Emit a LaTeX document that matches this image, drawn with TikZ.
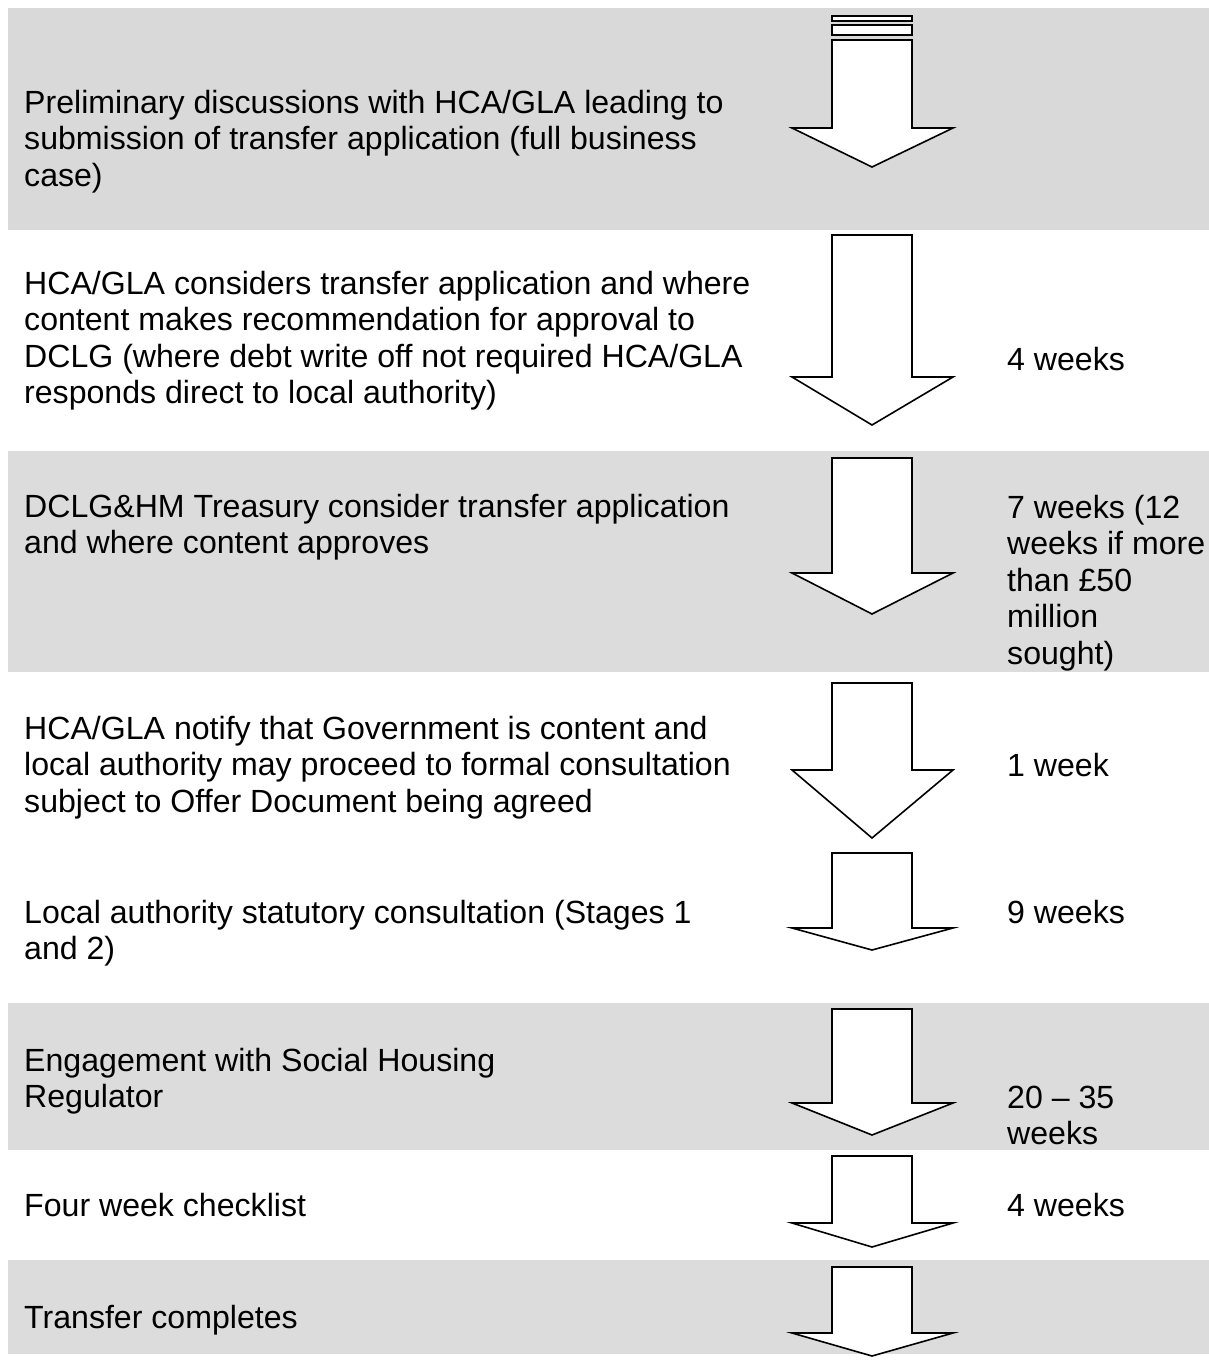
\documentclass[tikz,border=0pt]{standalone}
\usepackage{fontspec}
\setmainfont{Liberation Sans}
\definecolor{bandgray}{HTML}{DCDCDC}
\definecolor{topgray}{HTML}{D9D9D9}
\newcommand{\stagefont}{\fontsize{32.1}{36.5}\selectfont}
\newcommand{\flowarrow}[3]{%
  \draw[flow] (832,#1) -- (912,#1) -- (912,#2) -- (953,#2) -- (872,#3)
    -- (792,#2) -- (832,#2) -- cycle;}
\tikzset{
  band/.style={fill=bandgray, draw=none},
  stage/.style={anchor=base west, align=left, inner sep=0pt, font=\stagefont},
  duration/.style={anchor=base west, align=left, inner sep=0pt, font=\stagefont},
  flow/.style={draw=black, fill=white, line width=1.6pt, line join=miter}
}

\begin{document}
\begin{tikzpicture}[x=1pt,y=-1pt]
    \useasboundingbox[fill=white] (0,0) rectangle (1209,1362);

    % shaded rows
    \fill[topgray] (8,8) rectangle (1209,230);
    \fill[bandgray] (8,451) rectangle (1209,672);
    \fill[bandgray] (8,1003) rectangle (1209,1150);
    \fill[bandgray] (8,1260) rectangle (1209,1354);

    % arrows
    \draw[flow] (832,16) rectangle (912,21);
    \draw[flow] (832,25) rectangle (912,35);
    \flowarrow{40}{128}{167}
    \flowarrow{235}{377}{425}
    \flowarrow{458}{573}{614}
    \flowarrow{683}{770}{838}
    \flowarrow{853}{928}{950}
    \flowarrow{1009}{1103}{1135}
    \flowarrow{1156}{1223}{1247}
    \flowarrow{1267}{1333}{1356}

    % stages (anchored at the last line)
    \node[stage] (s1) at (24,186) {Preliminary discussions with HCA/GLA leading to\\submission of transfer application (full business\\case)};
    \node[stage] (s2) at (24,403.5) {HCA/GLA considers transfer application and where\\content makes recommendation for approval to\\DCLG (where debt write off not required HCA/GLA\\responds direct to local authority)};
    \node[stage] (s3) at (24,553.5) {DCLG\&HM Treasury consider transfer application\\and where content approves};
    \node[stage] (s4) at (24,812) {HCA/GLA notify that Government is content and\\local authority may proceed to formal consultation\\subject to Offer Document being agreed};
    \node[stage] (s5) at (24,959.5) {Local authority statutory consultation (Stages 1\\and 2)};
    \node[stage] (s6) at (24,1107.5) {Engagement with Social Housing\\Regulator};
    \node[stage] (s7) at (24,1216) {Four week checklist};
    \node[stage] (s8) at (24,1328) {Transfer completes};

    % durations
    \node[duration] (d2) at (1007,370) {4 weeks};
    \node[duration] (d3) at (1007,664) {7 weeks (12\\weeks if more\\than £50\\million\\sought)};
    \node[duration] (d4) at (1007,776) {1 week};
    \node[duration] (d5) at (1007,923) {9 weeks};
    \node[duration] (d6) at (1007,1144.5) {20 – 35\\weeks};
    \node[duration] (d7) at (1007,1216) {4 weeks};
\end{tikzpicture}
\end{document}
